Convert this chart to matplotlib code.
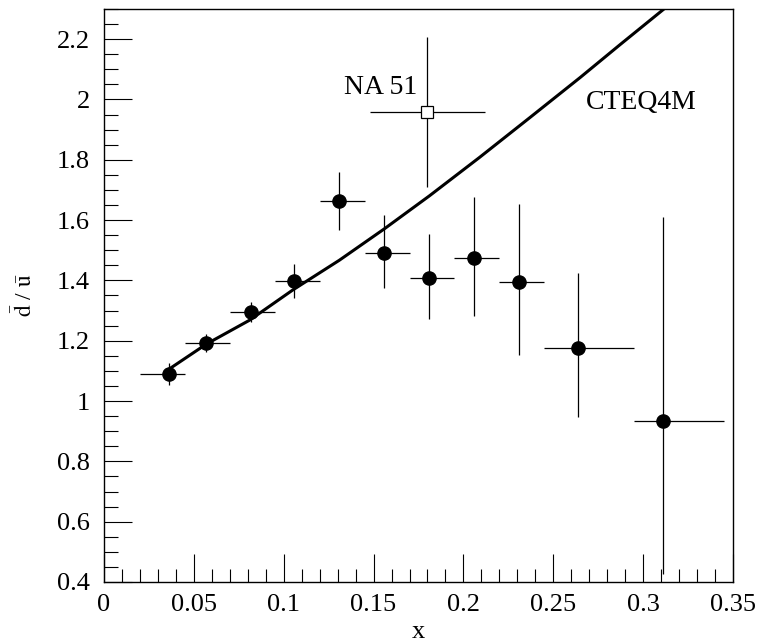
import numpy as np
import matplotlib.pyplot as plt
from matplotlib.ticker import MultipleLocator

plt.rcParams["font.family"] = ["Liberation Serif", "DejaVu Serif"]
plt.rcParams["mathtext.fontset"] = "stix"

# E866 dbar/ubar points
x = [0.036, 0.057, 0.082, 0.106, 0.131, 0.156, 0.181, 0.206, 0.231, 0.264, 0.311]
r = [1.090, 1.191, 1.295, 1.397, 1.664, 1.492, 1.408, 1.475, 1.394, 1.176, 0.933]
err_lo = [0.036, 0.030, 0.033, 0.056, 0.097, 0.116, 0.137, 0.192, 0.242, 0.228, 0.506]
err_hi = [0.036, 0.030, 0.033, 0.056, 0.097, 0.125, 0.146, 0.200, 0.261, 0.250, 0.676]
x_lo = [0.020, 0.045, 0.070, 0.095, 0.120, 0.145, 0.170, 0.195, 0.220, 0.245, 0.295]
x_hi = [0.045, 0.070, 0.095, 0.120, 0.145, 0.170, 0.195, 0.220, 0.245, 0.295, 0.345]

# NA51 point
na51_x = 0.180
na51_r = 1.958
na51_xerr = 0.032
na51_yerr = 0.248

# CTEQ4M prediction
cteq_x = [0.036, 0.057, 0.081, 0.105, 0.131, 0.156, 0.181, 0.209, 0.237, 0.265, 0.287, 0.312]
cteq_r = [1.105, 1.189, 1.268, 1.368, 1.467, 1.571, 1.680, 1.808, 1.940, 2.073, 2.181, 2.302]

fig = plt.figure(figsize=(7.69, 6.42), dpi=100)
ax = fig.add_axes([0.1352, 0.0935, 0.818, 0.8925])

xe = [np.array(x) - np.array(x_lo), np.array(x_hi) - np.array(x)]
ax.errorbar(x, r, xerr=xe, yerr=[err_lo, err_hi], fmt="o", color="black",
            ms=9.5, elinewidth=0.9, capsize=0, zorder=3)
ax.errorbar([na51_x], [na51_r], xerr=na51_xerr, yerr=na51_yerr, fmt="s",
            color="black", mfc="white", mec="black", mew=0.9, ms=9,
            elinewidth=0.9, capsize=0, zorder=3)
ax.plot(cteq_x, cteq_r, color="black", lw=2.2, zorder=2)

ax.text(0.1336, 2.017, "NA 51", fontsize=20, ha="left", va="baseline")
ax.text(0.268, 1.968, "CTEQ4M", fontsize=20, ha="left", va="baseline")

ax.set_xlim(0, 0.35)
ax.set_ylim(0.4, 2.3)
ax.xaxis.set_minor_locator(MultipleLocator(0.01))
ax.yaxis.set_minor_locator(MultipleLocator(0.05))
ax.set_xticks(np.arange(0, 0.351, 0.05))
ax.set_xticklabels(["0", "0.05", "0.1", "0.15", "0.2", "0.25", "0.3", "0.35"])
ax.set_yticks(np.arange(0.4, 2.21, 0.2))
ax.set_yticklabels(["0.4", "0.6", "0.8", "1", "1.2", "1.4", "1.6", "1.8", "2", "2.2"])

ax.tick_params(which="both", direction="in", top=False, right=False,
               labelsize=19, width=0.8)
ax.tick_params(axis="x", which="major", length=20, pad=9)
ax.tick_params(axis="x", which="minor", length=9.5)
ax.tick_params(axis="y", which="major", length=20, pad=10)
ax.tick_params(axis="y", which="minor", length=10)
for s in ax.spines.values():
    s.set_linewidth(1.0)

ax.set_xlabel("x", fontsize=19, va="baseline")
ax.xaxis.set_label_coords(0.5, -0.098)
ax.set_ylabel(r"$\mathrm{\bar{d}}$ / $\mathrm{\bar{u}}$", fontsize=17)
ax.yaxis.set_label_coords(-0.106, 0.5)

fig.savefig("out.png", dpi=100)
